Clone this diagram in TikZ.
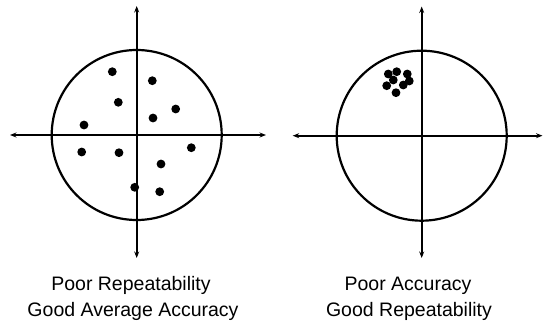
\documentclass[tikz,border=0pt]{standalone}
\usepackage{fontspec}
\setmainfont{Liberation Sans}
\usetikzlibrary{arrows.meta, calc}

\begin{document}
\begin{tikzpicture}[
  x=1pt, y=-1pt,
  ax/.style   = {draw, {Stealth[length=6.5pt,width=5pt]}-{Stealth[length=6.5pt,width=5pt]}, line width=2.2pt},
  ring/.style = {draw, line width=2.2pt},
  hit/.style  = {fill=black},
  lbl/.style  = {inner sep=0pt, anchor=base, font=\fontsize{19.5}{23}\selectfont},
]
\useasboundingbox (0,0) rectangle (543,321);

% =============== left target: scattered hits ===============
\coordinate (cA) at (136.7,135);
\draw[ring] (cA) circle (85pt);
\coordinate (wA) at (10,135);   \coordinate (eA) at (266,135);
\coordinate (nA) at (136.7,6);  \coordinate (sA) at (136.7,258);
\draw[ax] (wA) -- (eA);
\draw[ax] (nA) -- (sA);
\foreach \dx/\dy in {-24.4/-63.3, 15.6/-54.3, -18.4/-32.7, 39/-26, 16.3/-17,
                     -52.7/-10, -55/17, -17.7/17.7, 54.6/12.7, 24.3/29,
                     -2/52.3, 23/56.7}
  \fill[hit] ($(cA)+(\dx,\dy)$) circle (4.4pt);

\node[lbl] (capA1) at (131,290)   {Poor Repeatability};
\node[lbl] (capA2) at (133,316.5) {Good Average Accuracy};

% =============== right target: tight cluster off centre ===============
\coordinate (cB) at (421.7,135.7);
\draw[ring] (cB) circle (85pt);
\coordinate (wB) at (292.7,135.7); \coordinate (eB) at (542.5,135.7);
\coordinate (nB) at (421.7,6.5);   \coordinate (sB) at (421.7,258);
\draw[ax] (wB) -- (eB);
\draw[ax] (nB) -- (sB);
\foreach \dx/\dy in {-33.4/-61.7, -25/-64, -14.4/-61.7, -12.4/-54.7, -18.4/-50.7,
                     -25.7/-43, -35/-50, -28.4/-55.7}
  \fill[hit] ($(cB)+(\dx,\dy)$) circle (4.4pt);

\node[lbl] (capB1) at (408,290)   {Poor Accuracy};
\node[lbl] (capB2) at (409,316.5) {Good Repeatability};

\end{tikzpicture}
\end{document}
